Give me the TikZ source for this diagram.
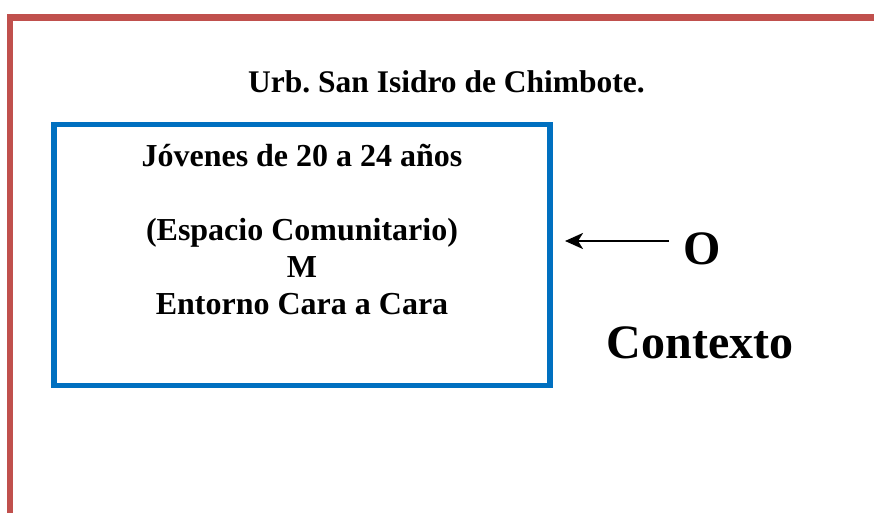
\documentclass[tikz,border=0pt]{standalone}
\usepackage{fontspec}
\setmainfont{Liberation Serif}
\usetikzlibrary{arrows.meta}
\frenchspacing
\definecolor{framered}{HTML}{C0504D}
\definecolor{boxblue}{HTML}{0070C0}
\tikzset{
  txt/.style={anchor=base, inner sep=0pt, font=\bfseries\fontsize{32}{37}\selectfont},
  titletxt/.style={anchor=base, inner sep=0pt, font=\bfseries\fontsize{31.5}{37}\selectfont},
  bigtxt/.style={anchor=base, inner sep=0pt, font=\bfseries\fontsize{48}{56}\selectfont},
  frame/.style={draw=framered, line width=6.7pt},
  bluebox/.style={draw=boxblue, line width=5.5pt},
  arr/.style={line width=2.6pt, -{Stealth[length=18pt, width=16pt, inset=5pt]}}
}
\begin{document}
\begin{tikzpicture}[x=1pt, y=-1pt]
\useasboundingbox (0,0) rectangle (874,513);
\fill[white] (0,0) rectangle (874,513);
% red frame
\draw[frame] (10,513) -- (10,17.3) -- (874,17.3);
% title
\node[titletxt] (title) at (446.5,93) {Urb. San Isidro de Chimbote.};
% box
\draw[bluebox] (54,124.5) rectangle (550,385.5);
\node[txt] (l1) at (302,167) {Jóvenes de 20 a 24 años};
\node[txt] (l2) at (302,240) {(Espacio Comunitario)};
\node[txt] (l3) at (302,277) {M};
\node[txt] (l4) at (302,314) {Entorno Cara a Cara};
\coordinate (tip) at (565,241);
% O and Contexto
\node[bigtxt] (o) at (702,264) {O};
\node[bigtxt] (ctx) at (700,358) {Contexto};
\coordinate (start) at (669,241);
\draw[arr] (start) -- (tip);
\end{tikzpicture}
\end{document}
